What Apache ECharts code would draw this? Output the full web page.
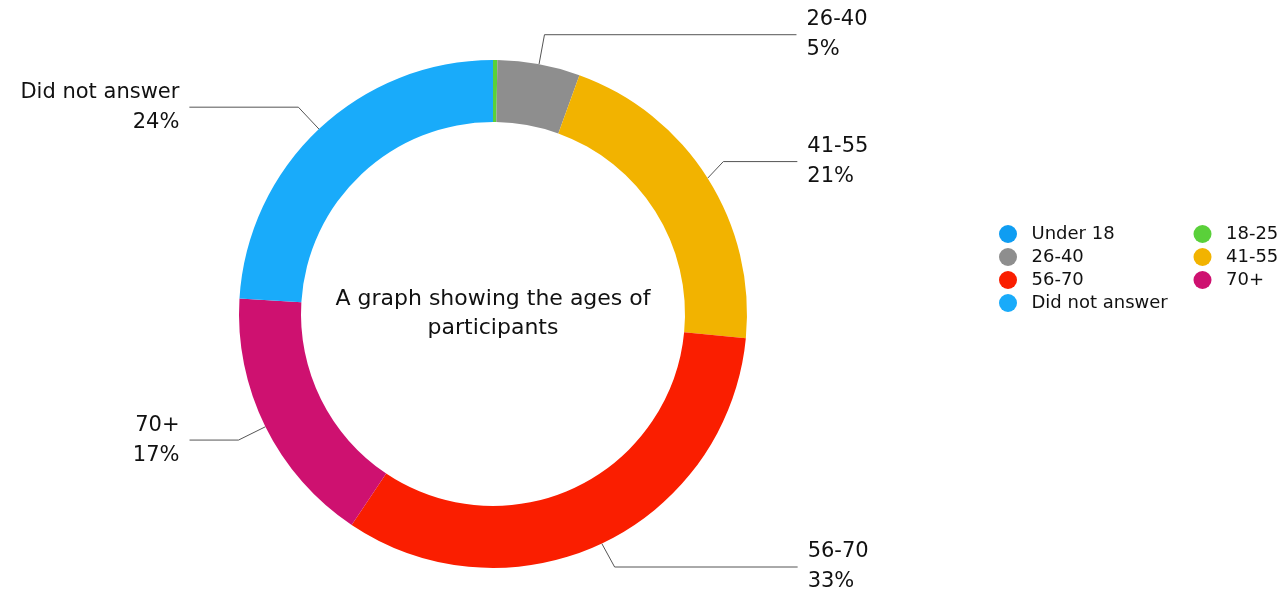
<!DOCTYPE html>
<html>
<head>
<meta charset="utf-8">
<script src="https://cdn.jsdelivr.net/npm/echarts@6/dist/echarts.min.js"></script>
<style>html,body{margin:0;padding:0;background:#fff}#c{width:1285px;height:598px}</style>
</head>
<body>
<div id="c"></div>
<script>
const categories = ['Under 18', '18-25', '26-40', '41-55', '56-70', '70+', 'Did not answer'];
const values = [0, 1, 19, 76, 119, 60, 87];
const colors = ['#0F9DF2', '#5AD03A', '#8E8E8E', '#F2B300', '#FA1E00', '#CE1170', '#19ABFA'];
const hiddenLabels = ['Under 18', '18-25'];
const centerTitle = 'A graph showing the ages of\nparticipants';
// horizontal leader-line length per category (style)
const leaderLen2 = {'26-40': 252, '41-55': 74, '56-70': 183, '70+': 49, 'Did not answer': 109};

const FONT = 'DejaVu Sans';
const chart = echarts.init(document.getElementById('c'), null, {renderer: 'canvas'});
const data = categories.map((name, i) => {
  const item = {name: name, value: values[i], itemStyle: {color: colors[i]}};
  if (hiddenLabels.indexOf(name) >= 0) {
    item.label = {show: false};
    item.labelLine = {show: false};
  } else {
    item.labelLine = {length2: leaderLen2[name]};
  }
  return item;
});
chart.setOption({
  backgroundColor: '#fff',
  animation: false,
  legend: {
    orient: 'horizontal',
    left: 994,
    top: 220,
    width: 400,
    itemWidth: 37,
    itemHeight: 18,
    itemGap: 5,
    icon: 'circle',
    textStyle: {fontFamily: FONT, fontSize: 18, color: '#111', width: 157, lineHeight: 18},
    data: categories
  },
  graphic: [{
    type: 'text',
    x: 493, y: 314,
    style: {text: centerTitle, fontFamily: FONT, fontSize: 22, lineHeight: 29, fill: '#111', align: 'center', verticalAlign: 'middle'}
  }],
  series: [{
    type: 'pie',
    center: [493, 314],
    radius: [192, 254],
    startAngle: 90,
    clockwise: true,
    avoidLabelOverlap: true,
    data: data,
    label: {
      show: true,
      position: 'outside',
      alignTo: 'none',
      distanceToLabelLine: 10,
      fontFamily: FONT,
      fontSize: 21,
      lineHeight: 30,
      color: '#111',
      formatter: p => p.name + '\n' + Math.round(p.percent) + '%'
    },
    labelLine: {show: true, length: 30, length2: 64, lineStyle: {color: '#555', width: 1}},
    emphasis: {disabled: true}
  }]
});
</script>
</body>
</html>
